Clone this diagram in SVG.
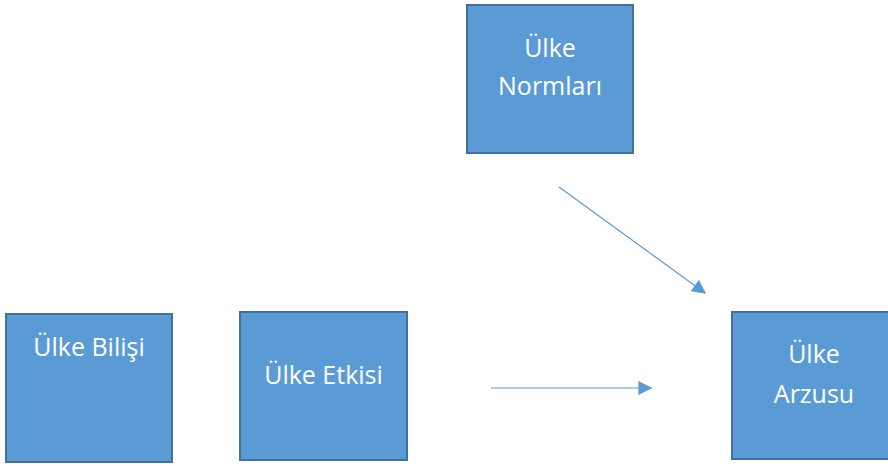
<svg xmlns="http://www.w3.org/2000/svg" width="888" height="466" viewBox="0 0 888 466">
  <style>
    .box { fill: #5B9BD5; stroke: #41719C; stroke-width: 2; }
    .lbl { fill: #FFFFFF; font-family: "Open Sans", "Noto Sans", "Liberation Sans", sans-serif; font-size: 25px; text-anchor: middle; }
    .edge { stroke: #5B9BD5; stroke-width: 1.2; fill: none; marker-end: url(#arrow); }
  </style>
  <defs>
    <marker id="arrow" viewBox="0 0 10 10" refX="9" refY="5" markerWidth="15" markerHeight="14" markerUnits="userSpaceOnUse" orient="auto">
      <path d="M0,0 L10,5 L0,10 Z" fill="#5B9BD5"/>
    </marker>
  </defs>
  <rect width="888" height="466" fill="#FFFFFF"/>

  <g id="node-normlari">
    <rect class="box" x="467" y="5" width="166" height="148"/>
    <text class="lbl" x="550" y="57">Ülke</text>
    <text class="lbl" x="550" y="95">Normları</text>
  </g>

  <g id="node-bilisi">
    <rect class="box" x="6" y="314" width="166" height="148"/>
    <text class="lbl" x="89" y="356">Ülke Bilişi</text>
  </g>

  <g id="node-etkisi">
    <rect class="box" x="240" y="312" width="167" height="148"/>
    <text class="lbl" x="323.5" y="384">Ülke Etkisi</text>
  </g>

  <g id="node-arzusu">
    <rect class="box" x="732" y="312" width="166" height="147"/>
    <text class="lbl" x="814" y="363">Ülke</text>
    <text class="lbl" x="814" y="403">Arzusu</text>
  </g>

  <g id="connectors">
    <line class="edge" x1="559" y1="187" x2="705" y2="293"/>
    <line class="edge" x1="491" y1="388" x2="651" y2="388"/>
  </g>
</svg>
